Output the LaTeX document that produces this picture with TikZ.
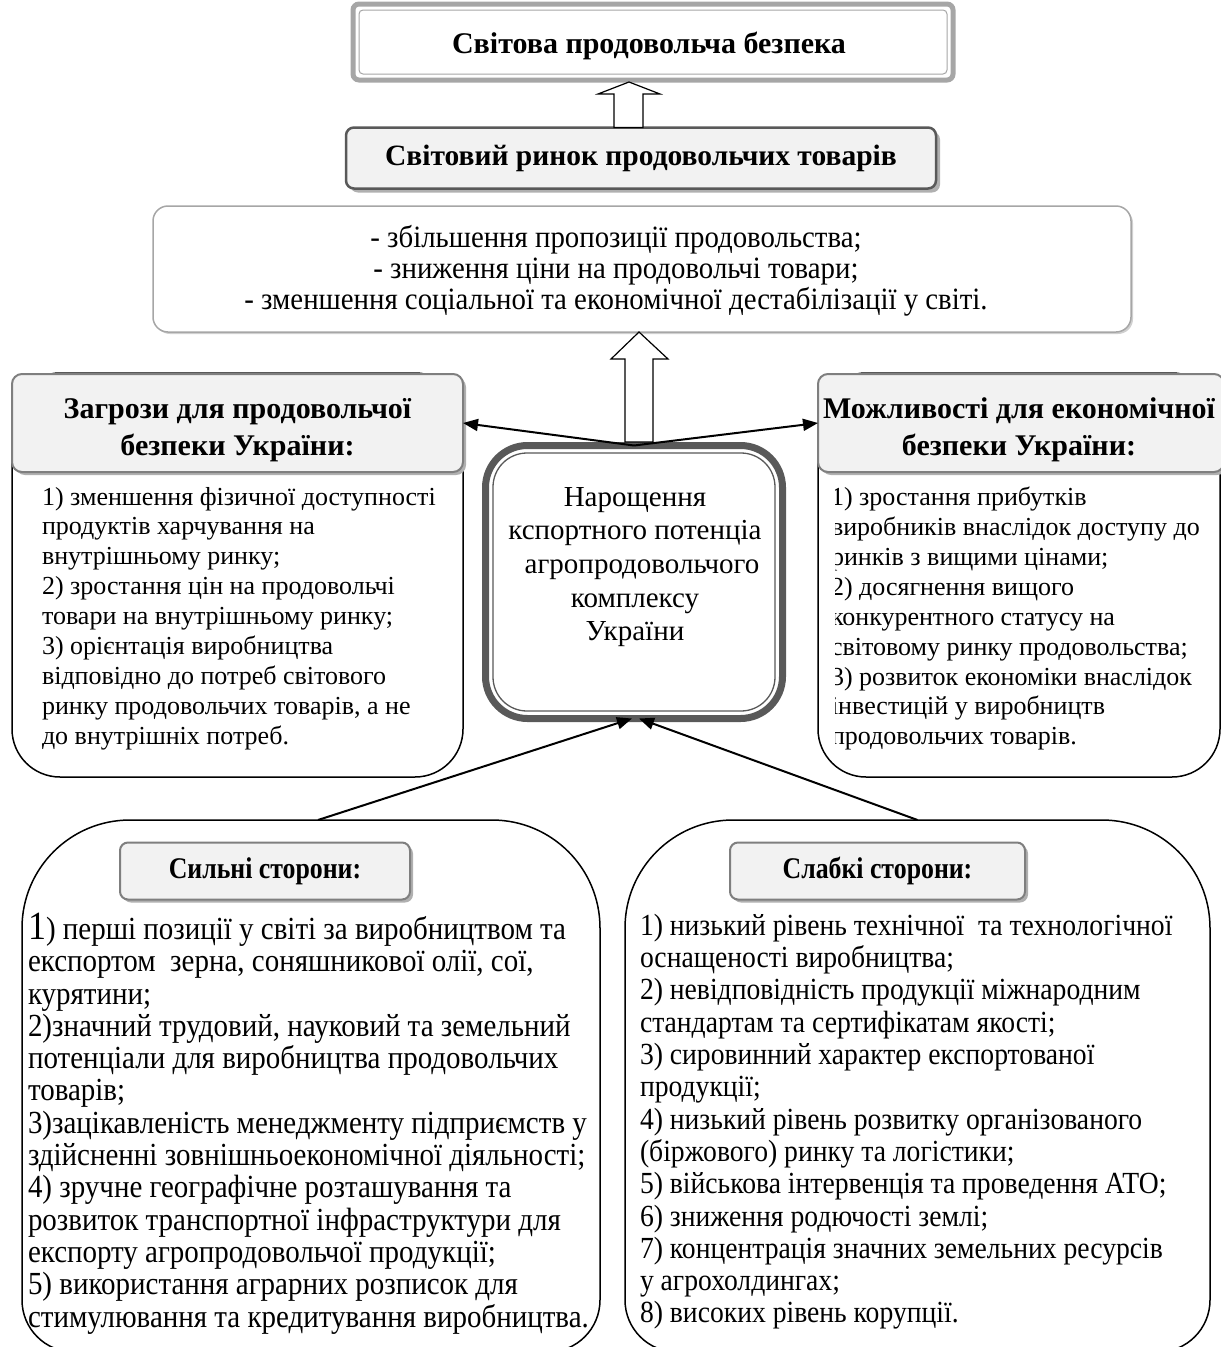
\documentclass[tikz,border=0pt]{standalone}
\usepackage{fontspec}
\setmainfont{Liberation Serif}
\newfontfamily\condfont[FakeStretch=0.9]{Liberation Serif}
\newfontfamily\condhfont[FakeStretch=0.86]{Liberation Serif}
\newfontfamily\condbfont[FakeStretch=0.93]{Liberation Serif}
\usetikzlibrary{shadows,arrows.meta,calc}
\definecolor{hdrfill}{HTML}{F2F2F2}
\definecolor{hdrline}{HTML}{7F7F7F}
\definecolor{darkline}{HTML}{595959}
\definecolor{lightline}{HTML}{A6A6A6}
\definecolor{shade}{HTML}{B0B0B0}
\begin{document}
\begin{tikzpicture}[x=1pt,y=-1pt,
  every node/.style={outer sep=0pt, inner sep=0pt},
  hdr/.style={draw=hdrline, line width=2pt, fill=hdrfill, rounded corners=10pt,
    drop shadow={shadow xshift=3pt, shadow yshift=-3pt, fill=shade, opacity=1}},
  hdrtxt/.style={align=center, font=\fontsize{30}{37}\selectfont\bfseries},
  smallhdr/.style={hdr, rounded corners=8pt, font=\condhfont\fontsize{30}{30}\selectfont\bfseries},
  bodybox/.style={draw=black, line width=1.5pt, fill=white, rounded corners=48pt},
  bigline/.style={draw=black, line width=1.5pt, fill=white, line cap=round},
  bodytxt/.style={anchor=north west, align=left, font=\fontsize{26}{29.9}\selectfont},
  lowtxt/.style={anchor=north west, align=left},
  arr/.style={line width=2pt, -{Triangle[length=15pt,width=12pt]}},
  hollow/.style={draw=black, fill=white, line width=1.2pt, line join=miter}
]
\useasboundingbox (0,0) rectangle (1221,1347);
\clip (0,0) rectangle (1221,1347);

% top box
\node[draw=lightline, line width=5pt, fill=white, rounded corners=6pt,
  minimum width=600pt, minimum height=76pt] (sec) at (653,42) {};
\draw[lightline, line width=1pt, rounded corners=4pt]
  ([shift={(6,6)}]sec.north west) rectangle ([shift={(-6,-6)}]sec.south east);
\node[font=\fontsize{30}{32}\selectfont\bfseries] (sect) at (649,46) {Світова продовольча безпека};

% market box
\node[draw=darkline, line width=2.5pt, fill=hdrfill, rounded corners=8pt,
  minimum width=590pt, minimum height=61pt,
  drop shadow={shadow xshift=4pt, shadow yshift=-4pt, fill=shade, opacity=1},
  font=\fontsize{29.5}{32}\selectfont\bfseries] (mkt) at (641,158) {Світовий ринок продовольчих товарів};

% benefits box
\node[draw=lightline, line width=1.5pt, fill=white, rounded corners=15pt,
  minimum width=978pt, minimum height=126pt,
  drop shadow={shadow xshift=2pt, shadow yshift=-2pt, fill=shade!60, opacity=1}] (ben) at (642,269) {};
\node[align=center, font=\condbfont\fontsize{31}{31}\selectfont] (bent) at (616,271)
  {- збільшення пропозиції продовольства;\\
   - зниження ціни на продовольчі товари;\\
   - зменшення соціальної та економічної дестабілізації у світі.};

% small hollow arrow
\draw[hollow] let \p1=(mkt.north), \p2=(sec.south) in
  (614,\y1) -- (614,\y2-14pt) -- (598,\y2-14pt) -- (629,\y2-2pt) -- (660,\y2-14pt)
  -- (643,\y2-14pt) -- (643,\y1) -- cycle;

% threats
\node[bodybox, minimum width=451pt, minimum height=404pt] (thb) at (237.5,575) {};
\node[hdr, minimum width=451pt, minimum height=98pt] (th) at (237.5,423) {};
\node[hdrtxt] (tht) at (237.5,430) {Загрози для продовольчої\\безпеки України:};
\node[bodytxt] (thl) at (42,487)
  {1) зменшення фізичної доступності\\
   продуктів харчування на\\
   внутрішньому ринку;\\
   2) зростання цін на продовольчі\\
   товари на внутрішньому ринку;\\
   3) орієнтація виробництва\\
   відповідно до потреб світового\\
   ринку продовольчих товарів, а не\\
   до внутрішніх потреб.};

% opportunities
\node[bodybox, minimum width=402pt, minimum height=404pt] (opb) at (1019,575) {};
\node[hdr, minimum width=406pt, minimum height=98pt] (op) at (1021,423) {};
\node[hdrtxt] (opt) at (1019,430) {Можливості для економічної\\безпеки України:};
\begin{scope}
  \clip (835,474) rectangle (1221,776);
  \node[bodytxt] (opl) at (831,487)
  {1) зростання прибутків\\
   виробників внаслідок доступу до\\
   ринків з вищими цінами;\\
   2) досягнення вищого\\
   конкурентного статусу на\\
   світовому ринку продовольства;\\
   3) розвиток економіки внаслідок\\
   інвестицій у виробництв\\
   продовольчих товарів.};
\end{scope}

% central box
\node[draw=darkline, line width=7pt, fill=white, rounded corners=42pt,
  minimum width=297pt, minimum height=273pt] (cen) at (634,582) {};
\draw[darkline, line width=1.3pt, rounded corners=34pt]
  ([shift={(7.5,7.5)}]cen.north west) rectangle ([shift={(-7.5,-7.5)}]cen.south east);
\node[align=center, font=\fontsize{29}{33.7}\selectfont] (cent) at (635,567)
  {Нарощення\\кспортного потенціа\\\hspace*{14pt}агропродовольчого\\комплексу\\України};

% big hollow arrow
\draw[hollow] let \p1=(cen.north), \p2=(ben.south) in
  (625,\y1+3.5pt) -- (625,\y2-27pt) -- (611,\y2-27pt) -- (639,\y2) -- (668,\y2-27pt)
  -- (653,\y2-27pt) -- (653,\y1+3.5pt) -- cycle;

% connectors to threats / opportunities
\draw[arr] (cen.north) -- (th.east);
\draw[arr] (cen.north) -- (op.west);

% strengths
\draw[bigline] (22,1000) [rounded corners=52pt] -- (22,1352) -- (600,1352) -- (600,1000)
  [rounded corners=108pt] -- (600,820) -- (22,820) -- (22,1000);
\node[minimum width=578pt, minimum height=532pt] (bl) at (311,1086) {};
\node[smallhdr, minimum width=290pt, minimum height=57pt] (sh) at (265,871) {Сильні сторони:};
\node[lowtxt, font=\condfont\fontsize{32.2}{32.3}\selectfont] (slt) at (28,913)
  {{\fontsize{40}{32.3}\selectfont 1}) перші позиції у світі за виробництвом та\\
   експортом~ зерна, соняшникової олії, сої,\\
   курятини;\\
   2)значний трудовий, науковий та земельний\\
   потенціали для виробництва продовольчих\\
   товарів;\\
   3)зацікавленість менеджменту підприємств у\\
   здійсненні зовнішньоекономічної діяльності;\\
   4) зручне географічне розташування та\\
   розвиток транспортної інфраструктури для\\
   експорту агропродовольчої продукції;\\
   5) використання аграрних розписок для\\
   стимулювання та кредитування виробництва.};

% weaknesses
\draw[bigline] (625,1000) [rounded corners=52pt] -- (625,1352) -- (1210,1352) -- (1210,1000)
  [rounded corners=108pt] -- (1210,820) -- (625,820) -- (625,1000);
\node[minimum width=585pt, minimum height=532pt] (br) at (917.5,1086) {};
\node[smallhdr, minimum width=295pt, minimum height=57pt] (wh) at (877.5,871) {Слабкі сторони:};
\node[lowtxt, font=\condfont\fontsize{30.7}{32.3}\selectfont] (wkt) at (640,914)
  {1) низький рівень технічної~ та технологічної\\
   оснащеності виробництва;\\
   2) невідповідність продукції міжнародним\\
   стандартам та сертифікатам якості;\\
   3) сировинний характер експортованої\\
   продукції;\\
   4) низький рівень розвитку організованого\\
   (біржового) ринку та логістики;\\
   5) військова інтервенція та проведення АТО;\\
   6) зниження родючості землі;\\
   7) концентрація значних земельних ресурсів\\
   у агрохолдингах;\\
   8) високих рівень корупції.};

% connectors from bottom boxes
\draw[arr] ([xshift=7pt]bl.north) -- ([xshift=-2pt]cen.south);
\draw[arr] (br.north) -- ([xshift=5pt]cen.south);
\end{tikzpicture}
\end{document}
